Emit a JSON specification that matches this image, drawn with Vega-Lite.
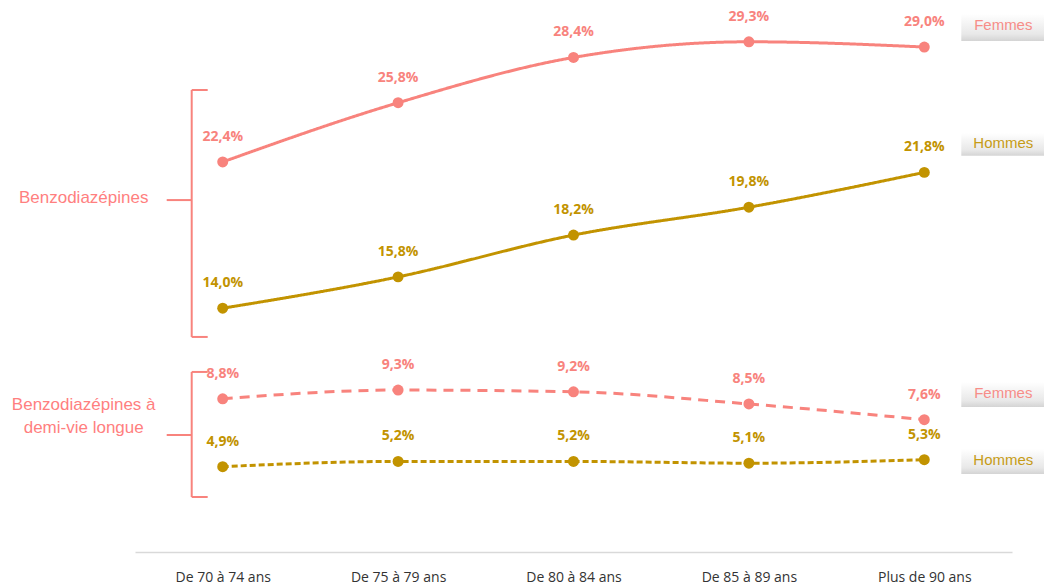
{
  "$schema": "https://vega.github.io/schema/vega-lite/v6.json",
  "width": 877,
  "height": 552,
  "autosize": {"type": "none"},
  "padding": {"left": 135, "top": 0, "right": 32, "bottom": 34},
  "background": "#ffffff",
  "config": {
    "view": {"stroke": null}
  },
  "datasets": {
    "main": [
      {"age": "De 70 à 74 ans", "serie": "F-benzo", "sexe": "Femmes", "value": 22.4, "label": "22,4%"},
      {"age": "De 75 à 79 ans", "serie": "F-benzo", "sexe": "Femmes", "value": 25.8, "label": "25,8%"},
      {"age": "De 80 à 84 ans", "serie": "F-benzo", "sexe": "Femmes", "value": 28.4, "label": "28,4%"},
      {"age": "De 85 à 89 ans", "serie": "F-benzo", "sexe": "Femmes", "value": 29.3, "label": "29,3%"},
      {"age": "Plus de 90 ans", "serie": "F-benzo", "sexe": "Femmes", "value": 29.0, "label": "29,0%"},
      {"age": "De 70 à 74 ans", "serie": "H-benzo", "sexe": "Hommes", "value": 14.0, "label": "14,0%"},
      {"age": "De 75 à 79 ans", "serie": "H-benzo", "sexe": "Hommes", "value": 15.8, "label": "15,8%"},
      {"age": "De 80 à 84 ans", "serie": "H-benzo", "sexe": "Hommes", "value": 18.2, "label": "18,2%"},
      {"age": "De 85 à 89 ans", "serie": "H-benzo", "sexe": "Hommes", "value": 19.8, "label": "19,8%"},
      {"age": "Plus de 90 ans", "serie": "H-benzo", "sexe": "Hommes", "value": 21.8, "label": "21,8%"},
      {"age": "De 70 à 74 ans", "serie": "F-longue", "sexe": "Femmes", "value": 8.8, "label": "8,8%"},
      {"age": "De 75 à 79 ans", "serie": "F-longue", "sexe": "Femmes", "value": 9.3, "label": "9,3%"},
      {"age": "De 80 à 84 ans", "serie": "F-longue", "sexe": "Femmes", "value": 9.2, "label": "9,2%"},
      {"age": "De 85 à 89 ans", "serie": "F-longue", "sexe": "Femmes", "value": 8.5, "label": "8,5%"},
      {"age": "Plus de 90 ans", "serie": "F-longue", "sexe": "Femmes", "value": 7.6, "label": "7,6%"},
      {"age": "De 70 à 74 ans", "serie": "H-longue", "sexe": "Hommes", "value": 4.9, "label": "4,9%"},
      {"age": "De 75 à 79 ans", "serie": "H-longue", "sexe": "Hommes", "value": 5.2, "label": "5,2%"},
      {"age": "De 80 à 84 ans", "serie": "H-longue", "sexe": "Hommes", "value": 5.2, "label": "5,2%"},
      {"age": "De 85 à 89 ans", "serie": "H-longue", "sexe": "Hommes", "value": 5.1, "label": "5,1%"},
      {"age": "Plus de 90 ans", "serie": "H-longue", "sexe": "Hommes", "value": 5.3, "label": "5,3%"}
    ],
    "annot": [
      {"age": "Plus de 90 ans", "sexe": "Femmes", "label": "Femmes", "yt": 30.26, "ya": 30.90, "yb": 29.35},
      {"age": "Plus de 90 ans", "sexe": "Hommes", "label": "Hommes", "yt": 23.49, "ya": 24.06, "yb": 22.75},
      {"age": "Plus de 90 ans", "sexe": "Femmes", "label": "Femmes", "yt": 9.13, "ya": 9.76, "yb": 8.33},
      {"age": "Plus de 90 ans", "sexe": "Hommes", "label": "Hommes", "yt": 5.28, "ya": 5.92, "yb": 4.48}
    ],
    "braces": [
      {"age": "De 70 à 74 ans", "top": 26.53, "bot": 12.35, "mid": 20.21},
      {"age": "De 70 à 74 ans", "top": 10.34, "bot": 3.16, "mid": 6.72}
    ],
    "groups": [
      {"age": "De 70 à 74 ans", "text": "Benzodiazépines", "y": 20.33},
      {"age": "De 70 à 74 ans", "text": "Benzodiazépines à\ndemi-vie longue", "y": 8.47}
    ]
  },
  "layer": [
    {
      "data": {"name": "main"},
      "mark": {"type": "line", "interpolate": "monotone", "strokeWidth": 3},
      "encoding": {
        "x": {
          "field": "age", "type": "ordinal",
          "scale": {"type": "point", "padding": 0.5, "domain": ["De 70 à 74 ans", "De 75 à 79 ans", "De 80 à 84 ans", "De 85 à 89 ans", "Plus de 90 ans"]},
          "axis": {"title": null, "ticks": false, "domainColor": "#d9d9d9", "domainWidth": 1.5, "labelFont": "Open Sans", "labelFontSize": 14, "labelColor": "#333333", "labelPadding": 18, "labelAngle": 0}
        },
        "y": {"field": "value", "type": "quantitative", "scale": {"domain": [0, 31.7], "nice": false}, "axis": null},
        "color": {"field": "sexe", "type": "nominal", "scale": {"domain": ["Femmes", "Hommes"], "range": ["#F8837D", "#C29300"]}, "legend": null},
        "strokeDash": {"field": "serie", "type": "nominal", "scale": {"domain": ["F-benzo", "H-benzo", "F-longue", "H-longue"], "range": [[1, 0], [1, 0], [10, 7], [6, 3]]}, "legend": null},
        "detail": {"field": "serie"}
      }
    },
    {
      "data": {"name": "main"},
      "mark": {"type": "circle", "size": 120, "opacity": 1},
      "encoding": {
        "x": {"field": "age", "type": "ordinal"},
        "y": {"field": "value", "type": "quantitative"},
        "color": {"field": "sexe", "type": "nominal", "legend": null}
      }
    },
    {
      "data": {"name": "main"},
      "mark": {"type": "text", "dy": -25, "font": "Open Sans", "fontWeight": "bold", "fontSize": 14, "baseline": "middle"},
      "encoding": {
        "x": {"field": "age", "type": "ordinal"},
        "y": {"field": "value", "type": "quantitative"},
        "text": {"field": "label"},
        "color": {"field": "sexe", "type": "nominal", "legend": null}
      }
    },
    {
      "data": {"name": "annot"},
      "mark": {"type": "rect", "width": 84, "xOffset": 79, "fill": {"gradient": "linear", "x1": 0, "y1": 0, "x2": 0, "y2": 1, "stops": [{"offset": 0, "color": "#ffffff"}, {"offset": 0.75, "color": "#e8e8e8"}, {"offset": 1, "color": "#d4d4d4"}]}},
      "encoding": {
        "x": {"field": "age", "type": "ordinal"},
        "y": {"field": "ya", "type": "quantitative"},
        "y2": {"field": "yb"}
      }
    },
    {
      "data": {"name": "annot"},
      "mark": {"type": "text", "dx": 79, "font": "Liberation Sans", "fontSize": 15, "baseline": "middle", "align": "center", "opacity": 0.9},
      "encoding": {
        "x": {"field": "age", "type": "ordinal"},
        "y": {"field": "yt", "type": "quantitative"},
        "text": {"field": "label"},
        "color": {"field": "sexe", "type": "nominal", "legend": null}
      }
    },
    {
      "data": {"name": "braces"},
      "mark": {"type": "rule", "xOffset": -31, "color": "#F8837D", "strokeWidth": 2},
      "encoding": {
        "x": {"field": "age", "type": "ordinal"},
        "y": {"field": "top", "type": "quantitative"},
        "y2": {"field": "bot"}
      }
    },
    {
      "data": {"name": "braces"},
      "mark": {"type": "rule", "xOffset": -31, "x2Offset": -15, "color": "#F8837D", "strokeWidth": 2},
      "encoding": {
        "x": {"field": "age", "type": "ordinal"},
        "x2": {"field": "age"},
        "y": {"field": "top", "type": "quantitative"}
      }
    },
    {
      "data": {"name": "braces"},
      "mark": {"type": "rule", "xOffset": -31, "x2Offset": -15, "color": "#F8837D", "strokeWidth": 2},
      "encoding": {
        "x": {"field": "age", "type": "ordinal"},
        "x2": {"field": "age"},
        "y": {"field": "bot", "type": "quantitative"}
      }
    },
    {
      "data": {"name": "braces"},
      "mark": {"type": "rule", "xOffset": -56, "x2Offset": -31, "color": "#F8837D", "strokeWidth": 2},
      "encoding": {
        "x": {"field": "age", "type": "ordinal"},
        "x2": {"field": "age"},
        "y": {"field": "mid", "type": "quantitative"}
      }
    },
    {
      "data": {"name": "groups"},
      "mark": {"type": "text", "dx": -139, "font": "Liberation Sans", "fontSize": 17, "lineHeight": 23, "lineBreak": "\n", "baseline": "middle", "align": "center", "color": "#FF7F7F"},
      "encoding": {
        "x": {"field": "age", "type": "ordinal"},
        "y": {"field": "y", "type": "quantitative"},
        "text": {"field": "text"}
      }
    }
  ]
}
